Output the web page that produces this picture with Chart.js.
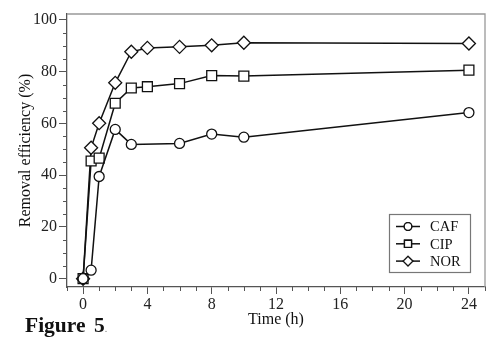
<!DOCTYPE html>
<html lang="en">
  <head>
    <meta charset="UTF-8" />
    <title>Figure 5</title>
    <script src="https://cdn.jsdelivr.net/npm/chart.js"></script>
    <style>
      body { margin: 0; background: #fff; }
      #wrap { position: relative; width: 498px; height: 343px; }
      #fig { position: absolute; left: 25px; top: 313px; font: bold 21.5px "Liberation Serif", serif; color: #111; word-spacing: 3px; }
      #fig span { font-size: 10px; color: #777; font-weight: normal; }
    </style>
  </head>
  <body>
    <div id="wrap">
      <canvas id="removal-chart" width="498" height="343"></canvas>
      <div id="fig">Figure 5<span>.</span></div>
    </div>
    <script>
      // time points (h)
      const timesCAF = [0, 0.5, 1, 2, 3, 6, 8, 10, 24];
      const timesAll = [0, 0.5, 1, 2, 3, 4, 6, 8, 10, 24];
      // removal efficiency (%)
      const caf = [0, 3.3, 39.5, 57.7, 51.9, 52.3, 55.9, 54.7, 64.2];
      const cip = [0, 45.5, 46.6, 67.8, 73.7, 74.2, 75.4, 78.5, 78.3, 80.6];
      const nor = [0, 50.6, 60.1, 75.7, 87.7, 89.2, 89.6, 90.2, 91.2, 90.9];
      const xTicks = [0, 4, 8, 12, 16, 20, 24];
      const yTicks = [0, 20, 40, 60, 80, 100];
      const seriesNames = ["CAF", "CIP", "NOR"];

      const serif = "'Liberation Serif', 'Times New Roman', serif";
      const axisColor = "#555";

      function pts(xs, ys) {
        return xs.map((x, i) => ({ x: x, y: ys[i] }));
      }

      function series(label, data, style, radius, legendRadius) {
        return {
          label: label,
          data: data,
          borderColor: "#111",
          borderWidth: 1.5,
          pointStyle: style,
          pointRadius: radius,
          legendRadius: legendRadius,
          pointBackgroundColor: "#fff",
          pointBorderColor: "#111",
          pointBorderWidth: 1.3,
          tension: 0,
        };
      }

      // minor ticks, top/right frame and legend box
      const extras = {
        id: "extras",
        afterDraw(chart) {
          const ctx = chart.ctx;
          const a = chart.chartArea;
          const xs = chart.scales.x;
          const ys = chart.scales.y;
          ctx.save();
          ctx.strokeStyle = "#999";
          ctx.lineWidth = 1.3;
          ctx.beginPath();
          ctx.moveTo(a.left, a.top);
          ctx.lineTo(a.right, a.top);
          ctx.lineTo(a.right, a.bottom);
          ctx.stroke();

          ctx.strokeStyle = axisColor;
          ctx.lineWidth = 1;
          ctx.beginPath();
          for (let t = -1; t <= 25; t++) {
            if (t % 4 === 0) continue;
            const px = Math.round(xs.getPixelForValue(t)) + 0.5;
            ctx.moveTo(px, a.bottom);
            ctx.lineTo(px, a.bottom + 4);
          }
          for (let v = 0; v <= 100; v += 5) {
            if (v % 20 === 0) continue;
            const py = Math.round(ys.getPixelForValue(v)) + 0.5;
            ctx.moveTo(a.left - 4, py);
            ctx.lineTo(a.left, py);
          }
          ctx.stroke();

          // legend
          const bx = 389, by = 214, bw = 81, bh = 58;
          ctx.fillStyle = "#fff";
          ctx.fillRect(bx, by, bw, bh);
          ctx.strokeStyle = "#777";
          ctx.lineWidth = 1.2;
          ctx.strokeRect(bx + 0.5, by + 0.5, bw, bh);
          chart.data.datasets.forEach((ds, i) => {
            const ly = by + 12.5 + i * 17.3;
            ctx.strokeStyle = "#111";
            ctx.lineWidth = 1.5;
            ctx.beginPath();
            ctx.moveTo(bx + 7, ly);
            ctx.lineTo(bx + 31, ly);
            ctx.stroke();
            ctx.fillStyle = "#fff";
            ctx.lineWidth = 1.3;
            Chart.helpers.drawPoint(ctx, { pointStyle: ds.pointStyle, radius: ds.legendRadius, borderWidth: 1.3 }, bx + 19, ly);
            ctx.fill();
            ctx.stroke();
            ctx.fillStyle = "#111";
            ctx.font = "14.5px " + serif;
            ctx.textBaseline = "middle";
            ctx.fillText(seriesNames[i], bx + 41, ly + 1);
          });
          ctx.restore();
        },
      };

      new Chart(document.getElementById("removal-chart"), {
        type: "line",
        data: {
          datasets: [
            series(seriesNames[0], pts(timesCAF, caf), "circle", 5, 3.8),
            series(seriesNames[1], pts(timesAll, cip), "rect", 7, 5),
            series(seriesNames[2], pts(timesAll, nor), "rectRot", 6.5, 4.8),
          ],
        },
        options: {
          responsive: false,
          animation: false,
          layout: { padding: { top: 14, right: 13, left: 0, bottom: 0 } },
          plugins: { legend: { display: false }, tooltip: { enabled: false } },
          scales: {
            x: {
              type: "linear",
              min: -1,
              max: 25,
              afterBuildTicks: (s) => { s.ticks = xTicks.map((v) => ({ value: v })); },
              afterFit: (s) => { s.height = 56; },
              grid: { drawOnChartArea: false, tickLength: 7, color: axisColor },
              border: { color: axisColor, width: 1.3 },
              ticks: { color: "#222", padding: 1, maxRotation: 0, font: { family: serif, size: 16 } },
              title: { display: true, text: "Time (h)", color: "#111", padding: { top: 0, bottom: 14 }, font: { family: serif, size: 16 } },
            },
            y: {
              min: -3.2,
              max: 102.3,
              afterBuildTicks: (s) => { s.ticks = yTicks.map((v) => ({ value: v })); },
              afterFit: (s) => { s.width = 67; },
              grid: { drawOnChartArea: false, tickLength: 8, color: axisColor },
              border: { color: axisColor, width: 1.3 },
              ticks: { color: "#222", padding: 2, font: { family: serif, size: 16 } },
              title: { display: true, text: "Removal efficiency (%)", color: "#111", padding: { top: 16, bottom: 0 }, font: { family: serif, size: 16 } },
            },
          },
        },
        plugins: [extras],
      });
    </script>
  </body>
</html>
